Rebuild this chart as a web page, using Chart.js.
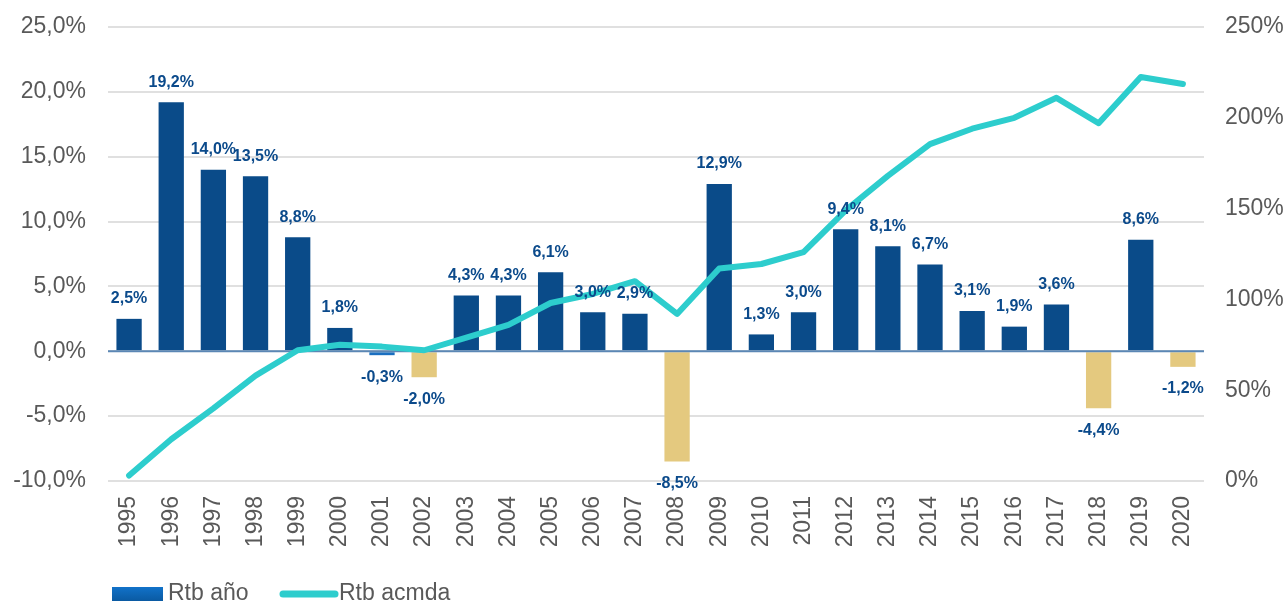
<!DOCTYPE html>
<html>
<head>
<meta charset="utf-8">
<script src="https://cdn.jsdelivr.net/npm/chart.js@4.4.1/dist/chart.umd.min.js"></script>
<style>
  html, body { margin: 0; padding: 0; background: #ffffff; }
  #wrap { width: 1287px; height: 602px; position: relative; }
</style>
</head>
<body>
<div id="wrap"><canvas id="c" width="1287" height="602"></canvas></div>
<script>
const years = ['1995','1996','1997','1998','1999','2000','2001','2002','2003','2004','2005','2006','2007','2008','2009','2010','2011','2012','2013','2014','2015','2016','2017','2018','2019','2020'];
const rtbAnio = [2.5,19.2,14.0,13.5,8.8,1.8,-0.3,-2.0,4.3,4.3,6.1,3.0,2.9,-8.5,12.9,1.3,3.0,9.4,8.1,6.7,3.1,1.9,3.6,-4.4,8.6,-1.2];
const rtbAcmda = [3,23,40,58,72,75,74,72,79,86,98,103,110,92,117,119.5,126,149,168,185.5,194,200,211,197,222.5,218.6];
const seriesNames = ['Rtb año', 'Rtb acmda'];

const FONT = '"Liberation Sans", Arial, sans-serif';
const BLUE = '#0a4b89';
const LIGHTBLUE = '#1a6fc0';
const TAN = '#e4c97f';
const CYAN = '#2dcdcd';
const LABEL = '#0b4a8b';
const GREY = '#595959';

const barColors = rtbAnio.map(v => v >= 0 ? BLUE : (v > -1 ? LIGHTBLUE : TAN));

const fmt1 = v => v.toFixed(1).replace('.', ',') + '%';

const customPlugin = {
  id: 'custom',
  beforeDatasetDraw(chart, args) {
    if (args.index !== 1) return;
    const y = chart.scales.y.getPixelForValue(0);
    const ctx = chart.ctx;
    ctx.save();
    ctx.strokeStyle = '#5b87b5';
    ctx.lineWidth = 2;
    ctx.beginPath();
    ctx.moveTo(chart.chartArea.left, y);
    ctx.lineTo(chart.chartArea.right, y);
    ctx.stroke();
    ctx.restore();
  },
  afterDatasetsDraw(chart) {
    const ctx = chart.ctx;
    const meta = chart.getDatasetMeta(0);
    ctx.save();
    ctx.font = 'bold 16px ' + FONT;
    ctx.fillStyle = LABEL;
    ctx.textAlign = 'center';
    ctx.textBaseline = 'middle';
    meta.data.forEach((bar, i) => {
      const v = rtbAnio[i];
      const y = v >= 0 ? bar.y - 20 : bar.y + 22;
      ctx.fillText(fmt1(v), bar.x, y);
    });
    ctx.restore();
  },
  afterDraw(chart) {
    const ctx = chart.ctx;
    ctx.save();
    const g = ctx.createLinearGradient(0, 587, 0, 601);
    g.addColorStop(0, '#1172c9');
    g.addColorStop(1, '#0a5aa2');
    ctx.fillStyle = g;
    ctx.fillRect(112, 587, 51, 14);
    ctx.font = '23px ' + FONT;
    ctx.fillStyle = GREY;
    ctx.textBaseline = 'middle';
    ctx.textAlign = 'left';
    ctx.fillText(seriesNames[0], 168, 594);
    ctx.strokeStyle = CYAN;
    ctx.lineWidth = 7;
    ctx.lineCap = 'round';
    ctx.beginPath();
    ctx.moveTo(283, 594);
    ctx.lineTo(335, 594);
    ctx.stroke();
    ctx.fillText(seriesNames[1], 339, 594);
    ctx.restore();
  }
};

new Chart(document.getElementById('c'), {
  data: {
    labels: years,
    datasets: [
      {
        type: 'bar',
        label: seriesNames[0],
        data: rtbAnio,
        backgroundColor: barColors,
        borderWidth: 0,
        categoryPercentage: 1.0,
        barPercentage: 0.6,
        yAxisID: 'y',
        order: 2
      },
      {
        type: 'line',
        label: seriesNames[1],
        data: rtbAcmda,
        borderColor: CYAN,
        borderWidth: 6,
        pointRadius: 0,
        tension: 0,
        borderJoinStyle: 'round',
        borderCapStyle: 'round',
        fill: false,
        yAxisID: 'y1',
        order: 1
      }
    ]
  },
  options: {
    responsive: false,
    animation: false,
    devicePixelRatio: 1,
    layout: { padding: { top: 27, bottom: 41, left: 0, right: 0 } },
    plugins: {
      legend: { display: false },
      tooltip: { enabled: false }
    },
    scales: {
      x: {
        offset: true,
        grid: { display: false, drawTicks: false },
        border: { display: false },
        ticks: {
          autoSkip: false,
          minRotation: 90,
          maxRotation: 90,
          padding: 15,
          color: GREY,
          font: { family: FONT, size: 23 }
        },
        afterFit(scale) { scale.height = 80; }
      },
      y: {
        position: 'left',
        min: -10,
        max: 25,
        grid: {
          color: '#e0e0e0',
          lineWidth: 2,
          drawTicks: true,
          tickLength: 20,
          tickColor: 'rgba(0,0,0,0)'
        },
        border: { display: false },
        ticks: {
          stepSize: 5,
          padding: 2,
          color: GREY,
          font: { family: FONT, size: 23 },
          callback: v => fmt1(v)
        },
        afterFit(scale) { scale.width = 108; }
      },
      y1: {
        position: 'right',
        min: 0,
        max: 250,
        grid: {
          display: true,
          drawOnChartArea: false,
          drawTicks: true,
          tickLength: 19,
          tickColor: 'rgba(0,0,0,0)'
        },
        border: { display: false },
        ticks: {
          stepSize: 50,
          padding: 2,
          color: GREY,
          font: { family: FONT, size: 23 },
          callback: v => v + '%'
        },
        afterFit(scale) { scale.width = 83; }
      }
    }
  },
  plugins: [customPlugin]
});
</script>
</body>
</html>
